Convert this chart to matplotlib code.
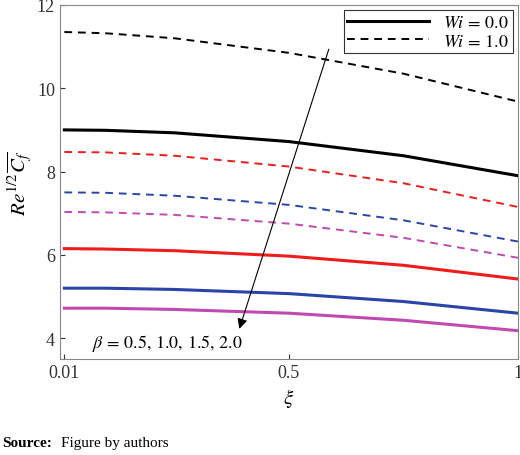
import matplotlib.pyplot as plt

plt.rcParams['font.family'] = ['Liberation Serif', 'DejaVu Serif']
plt.rcParams['mathtext.fontset'] = 'stix'

xi = [0.01, 0.1, 0.25, 0.5, 0.75, 1.0]
# Wi = 0.0 (solid), beta = 0.5, 1.0, 1.5, 2.0
wi0 = [
    [9.00, 8.99, 8.93, 8.72, 8.38, 7.90],
    [6.15, 6.14, 6.10, 5.97, 5.75, 5.42],
    [5.20, 5.20, 5.17, 5.07, 4.88, 4.60],
    [4.72, 4.72, 4.69, 4.60, 4.43, 4.18],
]
# Wi = 1.0 (dashed)
wi1 = [
    [11.35, 11.32, 11.20, 10.85, 10.35, 9.68],
    [8.47, 8.46, 8.38, 8.12, 7.72, 7.15],
    [7.50, 7.49, 7.42, 7.20, 6.83, 6.32],
    [7.03, 7.02, 6.96, 6.75, 6.41, 5.93],
]
colors = ['black', '#ee1c1c', '#2b44a8', '#c04ab0']

fig = plt.figure(figsize=(5.2, 4.56), dpi=100)
ax = fig.add_axes([0.115, 0.2105, 0.881, 0.7765])

for i, c in enumerate(colors):
    ax.plot(xi, wi0[i], color=c, lw=2.2, label=r'$Wi\,=\,0.0$' if i == 0 else None)
    ax.plot(xi, wi1[i], color=c, lw=1.4, ls=(0, (4, 3)), label=r'$Wi\,=\,1.0$' if i == 0 else None)

ax.annotate('', xy=(0.39, 4.16), xytext=(0.589, 11.0),
            arrowprops=dict(arrowstyle='-|>', color='black', lw=0.8, mutation_scale=15))
ax.text(0.07, 3.9, r'$\beta\,=\,0.5,\,1.0,\,1.5,\,2.0$', fontsize=13, va='center')

ax.set_xlim(0, 1)
ax.set_ylim(3.5, 12)
ax.set_xticks([0.01, 0.5, 1])
ax.set_xticklabels(['0.01', '0.5', '1'])
ax.set_yticks([4, 6, 8, 10, 12])
ax.tick_params(direction='in', labelsize=13, colors='#333333')
for s in ax.spines.values():
    s.set_color('#888888')
ax.set_xlabel(r'$\xi$', fontsize=15)
ax.set_ylabel(r'$Re^{1/2}\overline{C_f}$', fontsize=15, labelpad=2)

leg = ax.legend(loc='upper right', fontsize=13, fancybox=False, edgecolor='black',
                borderpad=0.2, handlelength=4.5, labelspacing=0.1, borderaxespad=0.3)
leg.get_frame().set_linewidth(0.8)

fig.text(0.005, 0.02, 'Source:', fontsize=11, fontweight='bold')
fig.text(0.118, 0.02, 'Figure by authors', fontsize=11)
fig.savefig('out.png', dpi=100)
